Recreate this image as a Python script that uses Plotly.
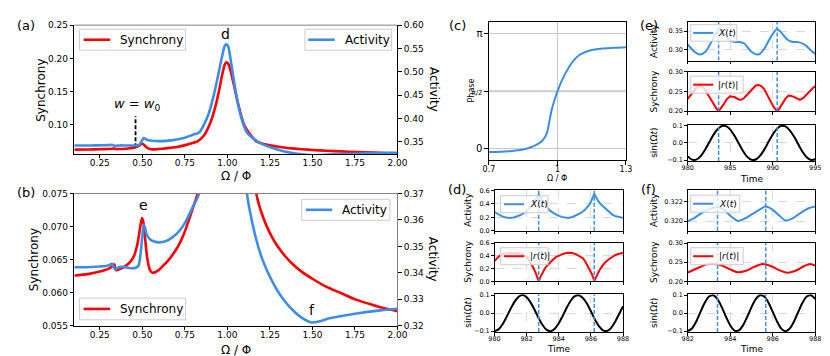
import plotly.graph_objects as go
import math

# ---------------- data ----------------
omega_sync = [0.10, 0.18, 0.25, 0.30, 0.32, 0.335, 0.345, 0.37, 0.40, 0.43, 0.45, 0.47, 0.485, 0.498,
              0.505, 0.515, 0.53, 0.545, 0.56, 0.59, 0.62, 0.65, 0.68, 0.71, 0.74, 0.77, 0.80, 0.824,
              0.86, 0.90, 0.93, 0.95, 0.97, 0.985, 0.995, 1.005, 1.02, 1.04, 1.06, 1.08, 1.10, 1.13,
              1.17, 1.21, 1.25, 1.29, 1.34, 1.38, 1.44, 1.50, 1.58, 1.67, 1.76, 1.86, 1.93, 2.00]
sync_vals = [0.0626, 0.0628, 0.0632, 0.0636, 0.0639, 0.0643, 0.0634, 0.0636, 0.0640, 0.0647, 0.0655,
             0.0672, 0.0695, 0.0713, 0.0708, 0.0685, 0.0650, 0.0634, 0.0630, 0.0633, 0.0640, 0.0648,
             0.0658, 0.0670, 0.0686, 0.0707, 0.0730, 0.0750, 0.083, 0.103, 0.128, 0.150, 0.176, 0.191,
             0.194, 0.192, 0.180, 0.158, 0.135, 0.115, 0.099, 0.087, 0.0750, 0.0714, 0.0690, 0.0672,
             0.0655, 0.0644, 0.0631, 0.0621, 0.0609, 0.0599, 0.0589, 0.0581, 0.0576, 0.0572]

omega_act = [0.10, 0.20, 0.25, 0.30, 0.322, 0.335, 0.345, 0.365, 0.40, 0.44, 0.465, 0.478, 0.49, 0.50,
             0.508, 0.515, 0.527, 0.545, 0.57, 0.60, 0.64, 0.67, 0.71, 0.75, 0.795, 0.834, 0.86, 0.89,
             0.92, 0.95, 0.97, 0.985, 0.995, 1.005, 1.02, 1.04, 1.06, 1.08, 1.10, 1.115, 1.132, 1.17,
             1.209, 1.266, 1.324, 1.40, 1.45, 1.497, 1.55, 1.60, 1.75, 1.90, 2.00]
act_vals = [0.3421, 0.3422, 0.3424, 0.3428, 0.3434, 0.3416, 0.3414, 0.3422, 0.3421, 0.3417, 0.3420,
            0.3428, 0.3476, 0.3540, 0.3580, 0.3572, 0.3543, 0.3527, 0.3518, 0.3515, 0.3520, 0.3531,
            0.3553, 0.3588, 0.3647, 0.3700, 0.385, 0.410, 0.450, 0.500, 0.535, 0.556, 0.559, 0.554,
            0.524, 0.477, 0.435, 0.404, 0.381, 0.370, 0.3635, 0.3525, 0.3445, 0.3365, 0.3304, 0.3249,
            0.3225, 0.3212, 0.3218, 0.3228, 0.3245, 0.3258, 0.3264]

w0 = 0.46
w0_line_y = [0.0662, 0.113]

omega_phase = [0.70, 0.75, 0.80, 0.85, 0.88, 0.90, 0.92, 0.935, 0.945, 0.952, 0.958, 0.963, 0.968,
               0.975, 0.985, 1.00, 1.02, 1.05, 1.08, 1.10, 1.15, 1.20, 1.25, 1.30]
phase_vals = [-0.088, -0.079, -0.057, -0.016, 0.038, 0.088, 0.157, 0.236, 0.314, 0.408, 0.520, 0.700,
              0.860, 1.068, 1.288, 1.561, 1.869, 2.221, 2.466, 2.570, 2.686, 2.730, 2.752, 2.765]
phase_ticks = [0, math.pi / 2, math.pi]

# (d) Omega/Phi = 1
d_act_t = [980.0, 980.2, 980.41, 980.65, 980.92, 981.2, 981.43, 981.7, 981.93, 982.15, 982.34, 982.5,
           982.65, 982.75, 982.85, 983.0, 983.26, 983.45, 983.66, 983.9, 984.17, 984.4, 984.58, 984.85,
           985.09, 985.35, 985.6, 985.75, 985.9, 986.05, 986.21, 986.32, 986.45, 986.6, 986.92, 987.1,
           987.33, 987.55, 987.74, 988.0]
d_act = [0.28, 0.245, 0.221, 0.200, 0.192, 0.198, 0.216, 0.245, 0.28, 0.33, 0.389, 0.445, 0.505, 0.54,
         0.505, 0.44, 0.354, 0.30, 0.266, 0.232, 0.207, 0.195, 0.192, 0.205, 0.231, 0.262, 0.305, 0.34,
         0.389, 0.46, 0.55, 0.505, 0.445, 0.40, 0.33, 0.29, 0.241, 0.215, 0.202, 0.192]
d_r_t = [980.0, 980.15, 980.3, 980.45, 980.61, 980.9, 981.22, 981.5, 981.75, 981.93, 982.1, 982.24, 982.4,
         982.54, 982.65, 982.75, 982.85, 982.95, 983.1, 983.26, 983.45, 983.66, 983.85, 984.07, 984.3,
         984.58, 984.85, 985.09, 985.3, 985.5, 985.65, 985.8, 985.95, 986.07, 986.21, 986.31, 986.41,
         986.55, 986.72, 986.9, 987.12, 987.3, 987.53, 987.75, 988.0]
d_r = [0.32, 0.365, 0.397, 0.418, 0.432, 0.440, 0.442, 0.437, 0.420, 0.397, 0.350, 0.295, 0.220, 0.142,
       0.075, 0.005, 0.065, 0.117, 0.185, 0.244, 0.300, 0.346, 0.383, 0.412, 0.433, 0.447, 0.443, 0.422,
       0.397, 0.361, 0.310, 0.244, 0.170, 0.107, 0.005, 0.065, 0.107, 0.180, 0.244, 0.300, 0.346, 0.380,
       0.412, 0.432, 0.442]
d_sin_t = [980.0, 980.25, 980.5, 980.75, 981.0, 981.25, 981.5, 981.75, 982.0, 982.25, 982.5, 982.75,
           983.0, 983.25, 983.5, 983.75, 984.0, 984.25, 984.5, 984.75, 985.0, 985.25, 985.5, 985.75,
           986.0, 986.25, 986.5, 986.75, 987.0, 987.25, 987.5, 987.75, 988.0]
d_sin = [-0.100, -0.090, -0.062, -0.021, 0.024, 0.064, 0.091, 0.100, 0.088, 0.058, 0.017, -0.028,
         -0.067, -0.093, -0.100, -0.086, -0.056, -0.014, 0.031, 0.070, 0.094, 0.099, 0.084, 0.053,
         0.010, -0.035, -0.072, -0.095, -0.099, -0.083, -0.049, -0.006, 0.038]
d_marks = [982.75, 986.21]

# (e) Omega/Phi = 0.5
e_act_t = [980.0, 980.77, 981.45, 982.1, 982.87, 983.44, 983.75, 984.2, 984.8, 985.36, 986.1, 986.7,
           987.46, 988.3, 989.0, 989.76, 990.5, 990.95, 991.7, 992.25, 993.0, 993.8, 994.5, 995.0]
e_act = [0.3136, 0.2945, 0.2864, 0.2945, 0.3245, 0.347, 0.356, 0.3455, 0.327, 0.321, 0.320, 0.3155,
         0.2945, 0.2864, 0.302, 0.3336, 0.3555, 0.347, 0.327, 0.321, 0.320, 0.3127, 0.2973, 0.288]
e_r_t = [980.0, 980.3, 980.6, 980.95, 981.4, 981.8, 982.1, 982.5, 982.87, 983.2, 983.45, 983.63, 983.85,
         984.2, 984.6, 984.97, 985.3, 985.55, 986.0, 986.3, 986.6, 986.9, 987.3, 987.65, 988.0, 988.34,
         988.7, 989.0, 989.4, 989.76, 990.1, 990.35, 990.52, 990.75, 991.1, 991.5, 991.86, 992.1, 992.4,
         992.8, 993.2, 993.6, 993.97, 994.5, 995.0]
e_r = [0.2314, 0.240, 0.249, 0.258, 0.2645, 0.261, 0.252, 0.238, 0.223, 0.211, 0.204, 0.200, 0.206,
       0.2165, 0.231, 0.238, 0.237, 0.2355, 0.230, 0.229, 0.233, 0.240, 0.251, 0.260, 0.2655, 0.267,
       0.2635, 0.256, 0.240, 0.223, 0.211, 0.204, 0.200, 0.206, 0.219, 0.232, 0.2397, 0.2395, 0.237,
       0.232, 0.229, 0.234, 0.2413, 0.254, 0.2645]
e_sin_t = [980.0, 980.5, 981.0, 981.5, 982.0, 982.5, 983.0, 983.5, 984.0, 984.5, 985.0, 985.5, 986.0,
           986.5, 987.0, 987.5, 988.0, 988.5, 989.0, 989.5, 990.0, 990.5, 991.0, 991.5, 992.0, 992.5,
           993.0, 993.5, 994.0, 994.5, 995.0]
e_sin = [-0.078, -0.097, -0.097, -0.078, -0.043, 0.001, 0.045, 0.079, 0.098, 0.097, 0.077, 0.041,
         -0.003, -0.047, -0.081, -0.098, -0.096, -0.075, -0.039, 0.006, 0.049, 0.082, 0.099, 0.096,
         0.073, 0.037, -0.008, -0.051, -0.083, -0.099, -0.095]
e_marks = [983.63, 990.52]

# (f) Omega/Phi = 1.5
f_act_t = [982.0, 982.26, 982.65, 983.04, 983.38, 983.66, 983.97, 984.36, 984.67, 985.05, 985.44, 985.67,
           985.98, 986.29, 986.6, 986.91, 987.3, 987.69, 988.0]
f_act = [0.3200, 0.32026, 0.32082, 0.32125, 0.32144, 0.32125, 0.3206, 0.32003, 0.32026, 0.32075,
         0.32125, 0.32148, 0.32118, 0.3206, 0.32007, 0.32026, 0.32082, 0.32131, 0.32148]
f_r_t = [982.0, 982.42, 982.88, 983.19, 983.58, 983.97, 984.36, 984.74, 985.13, 985.52, 985.91, 986.29,
         986.68, 987.07, 987.46, 987.77, 988.0]
f_r = [0.2225, 0.2333, 0.2442, 0.2458, 0.2417, 0.2317, 0.2233, 0.2275, 0.2375, 0.245, 0.24, 0.2292,
       0.2225, 0.2275, 0.2392, 0.245, 0.2408]
f_sin_t = [982.0, 982.2, 982.4, 982.6, 982.8, 983.0, 983.2, 983.4, 983.6, 983.8, 984.0, 984.2, 984.4,
           984.6, 984.8, 985.0, 985.2, 985.4, 985.6, 985.8, 986.0, 986.2, 986.4, 986.6, 986.8, 987.0,
           987.2, 987.4, 987.6, 987.8, 988.0]
f_sin = [-0.100, -0.085, -0.046, 0.007, 0.058, 0.092, 0.099, 0.078, 0.033, -0.020, -0.068, -0.097,
         -0.096, -0.068, -0.020, 0.033, 0.078, 0.099, 0.092, 0.058, 0.007, -0.046, -0.086, -0.100,
         -0.085, -0.046, 0.007, 0.058, 0.092, 0.099, 0.078]
f_marks = [983.4, 985.67]

peak_labels = ['d', 'e', 'f']
peak_label_pos = [(0.99, 0.236), (0.507, 0.0733), (1.50, 0.0573)]

# ---------------- styling helpers ----------------
W, H = 830, 356
FONT = 'DejaVu Sans'
RED = '#ff0000'
BLUE = '#3a8ee6'


def px(x):
    return x / W


def py(y):
    return 1 - y / H


def axis(dom, rng, size=9, **kw):
    d = dict(domain=dom, range=rng, showline=True, linecolor='black', linewidth=1, mirror=True,
             ticks='outside', ticklen=3.5, tickwidth=0.8, tickcolor='black', showgrid=False,
             zeroline=False, tickfont=dict(size=size, color='black', family=FONT))
    d.update(kw)
    return d


def ann(text, x, y, size, angle=0, xa='center', ya='middle'):
    return dict(text=text, x=px(x), y=py(y), xref='paper', yref='paper', showarrow=False,
                textangle=angle, xanchor=xa, yanchor=ya,
                font=dict(size=size, color='black', family=FONT))


fig = go.Figure()
SPL = dict(shape='spline', smoothing=0.8)
LIN = dict(shape='linear')

# (a)
fig.add_trace(go.Scatter(x=omega_sync, y=sync_vals, xaxis='x', yaxis='y', mode='lines', name='Synchrony',
                         line=dict(color=RED, width=2.6, **SPL), showlegend=False))
fig.add_trace(go.Scatter(x=omega_act, y=act_vals, xaxis='x', yaxis='y2', mode='lines', name='Activity',
                         line=dict(color=BLUE, width=2.6, **SPL), showlegend=False))
fig.add_trace(go.Scatter(x=[w0, w0], y=w0_line_y, xaxis='x', yaxis='y', mode='lines', showlegend=False,
                         line=dict(color='black', width=1.8, dash='4px,2px')))
# (b)
fig.add_trace(go.Scatter(x=omega_sync, y=sync_vals, xaxis='x2', yaxis='y3', mode='lines', name='Synchrony',
                         line=dict(color=RED, width=2.6, **SPL), showlegend=False))
fig.add_trace(go.Scatter(x=omega_act, y=act_vals, xaxis='x2', yaxis='y4', mode='lines', name='Activity',
                         line=dict(color=BLUE, width=2.6, **SPL), showlegend=False))
# (c)
fig.add_trace(go.Scatter(x=omega_phase, y=phase_vals, xaxis='x3', yaxis='y5', mode='lines', showlegend=False,
                         line=dict(color=BLUE, width=2, **SPL)))

XT = '<i>X</i>(<i>t</i>)'
RT = '|<i>r</i>(<i>t</i>)|'
groups = [
    ('x4', 'y6', 'x5', 'y7', 'x6', 'y8', d_act_t, d_act, d_r_t, d_r, d_sin_t, d_sin, LIN, LIN),
    ('x7', 'y9', 'x8', 'y10', 'x9', 'y11', e_act_t, e_act, e_r_t, e_r, e_sin_t, e_sin, SPL, LIN),
    ('x10', 'y12', 'x11', 'y13', 'x12', 'y14', f_act_t, f_act, f_r_t, f_r, f_sin_t, f_sin, SPL, SPL),
]
for (xa1, ya1, xa2, ya2, xa3, ya3, at, av, rt, rv, st, sv, ashape, rshape) in groups:
    fig.add_trace(go.Scatter(x=at, y=av, xaxis=xa1, yaxis=ya1, mode='lines', name='X(t)', showlegend=False,
                             line=dict(color=BLUE, width=2, **ashape)))
    fig.add_trace(go.Scatter(x=rt, y=rv, xaxis=xa2, yaxis=ya2, mode='lines', name='|r(t)|', showlegend=False,
                             line=dict(color=RED, width=2, **rshape)))
    fig.add_trace(go.Scatter(x=st, y=sv, xaxis=xa3, yaxis=ya3, mode='lines', showlegend=False,
                             line=dict(color='black', width=2, **SPL)))

# ---------------- layout ----------------
AX = [61.5, 391]
layout = dict(width=W, height=H, margin=dict(l=0, r=0, t=0, b=0), paper_bgcolor='white',
              plot_bgcolor='white', font=dict(family=FONT, color='black'), showlegend=False)

XT_AB = [0.25, 0.5, 0.75, 1.0, 1.25, 1.5, 1.75, 2.0]
# (a)
layout['xaxis'] = axis([px(AX[0]), px(AX[1])], [0.1, 2.0], anchor='y', tickvals=XT_AB,
                       tickformat='.2f', ticklabelstandoff=-3, mirror=False)
layout['yaxis'] = axis([py(145), py(12.5)], [0.0561, 0.25], anchor='x', tickvals=[0.10, 0.15, 0.20, 0.25],
                       tickformat='.2f', mirror=False)
layout['yaxis2'] = axis([py(145), py(12.5)], [0.324, 0.60], anchor='x', overlaying='y', side='right',
                        tickvals=[0.35, 0.40, 0.45, 0.50, 0.55, 0.60], tickformat='.2f', mirror=False)
# (b)
layout['xaxis2'] = axis([px(AX[0]), px(AX[1])], [0.1, 2.0], anchor='y3', tickvals=XT_AB,
                        tickformat='.2f', ticklabelstandoff=-3, mirror=False)
layout['yaxis3'] = axis([py(321.7), py(185.7)], [0.055, 0.075], anchor='x2',
                        tickvals=[0.055, 0.060, 0.065, 0.070, 0.075], tickformat='.3f', mirror=False)
layout['yaxis4'] = axis([py(321.7), py(185.7)], [0.32, 0.37], anchor='x2', overlaying='y3', side='right',
                        tickvals=[0.32, 0.33, 0.34, 0.35, 0.36, 0.37], tickformat='.2f', mirror=False,
                        linecolor='#808080')
# (c)
layout['xaxis3'] = axis([px(484.3), px(624)], [0.7, 1.3], anchor='y5', size=8, tickvals=[0.7, 1.0, 1.3],
                        ticktext=['0.7', '1', '1.3'], showgrid=True, gridcolor='#c8c8c8', gridwidth=1,
                        ticklabelstandoff=-3)
layout['yaxis5'] = axis([py(151.7), py(9)], [-0.1 * math.pi, 1.1 * math.pi], anchor='x3', size=10,
                        tickvals=phase_ticks,
                        ticktext=['0', '<span style="font-size:7px">π/2</span>', 'π'],
                        showgrid=True, gridcolor='#c8c8c8', gridwidth=1)

# (d),(e),(f)
rows = [[181.7, 224], [236.7, 276], [289.3, 328.3]]
rows_e = [[9, 49], [60.7, 101], [115, 152.3]]
GRID = dict(showgrid=True, gridcolor='#d9d9d9', gridwidth=0.8, griddash='dash')
sub_specs = [
    (['xaxis4', 'xaxis5', 'xaxis6'], ['yaxis6', 'yaxis7', 'yaxis8'], [490, 621], rows,
     [980, 988], [980, 982, 984, 986, 988],
     [[0, 0.615], [0, 0.6], [-0.105, 0.105]],
     [[0.0, 0.2, 0.4, 0.6], [0.0, 0.2, 0.4, 0.6], [-0.1, 0.0, 0.1]], ['.1f', '.1f', '.1f']),
    (['xaxis7', 'xaxis8', 'xaxis9'], ['yaxis9', 'yaxis10', 'yaxis11'], [687, 817], rows_e,
     [980, 995], [980, 985, 990, 995],
     [[0.270, 0.375], [0.20, 0.30], [-0.105, 0.105]],
     [[0.30, 0.35], [0.20, 0.25, 0.30], [-0.1, 0.0, 0.1]], ['.2f', '.2f', '.1f']),
    (['xaxis10', 'xaxis11', 'xaxis12'], ['yaxis12', 'yaxis13', 'yaxis14'], [687, 817], rows,
     [982, 988], [982, 984, 986, 988],
     [[0.31904, 0.3232], [0.20, 0.30], [-0.105, 0.105]],
     [[0.320, 0.322], [0.20, 0.25, 0.30], [-0.1, 0.0, 0.1]], ['.3f', '.2f', '.1f']),
]
for xs, ys, xr, rws, xrange_, xticks, yranges, yticks, yfmts in sub_specs:
    for i in range(3):
        xname, yname = xs[i], ys[i]
        layout[xname] = axis([px(xr[0]), px(xr[1])], xrange_, size=6.5, anchor=yname.replace('yaxis', 'y'),
                             tickvals=xticks, showticklabels=(i == 2), ticklen=2.5, ticklabelstandoff=-2, **GRID)
        layout[yname] = axis([py(rws[i][1]), py(rws[i][0])], yranges[i], size=6.5, ticklen=2.5,
                             anchor=xname.replace('xaxis', 'x'), tickvals=yticks[i], tickformat=yfmts[i], **GRID)

# top spines of (a) and (b), reference line in (c), vertical dashed markers
shapes = [
    dict(type='line', xref='x domain', yref='y domain', x0=0, x1=1, y0=1, y1=1,
         line=dict(color='#808080', width=1)),
    dict(type='line', xref='x2 domain', yref='y3 domain', x0=0, x1=1, y0=1, y1=1,
         line=dict(color='#808080', width=1)),
    dict(type='line', xref='x3 domain', yref='y5', x0=0, x1=1, y0=phase_ticks[1], y1=phase_ticks[1],
         line=dict(color='#dedede', width=2.5), layer='below'),
]
xgroups = [(d_marks, ['x4', 'x5', 'x6'], ['y6', 'y7', 'y8']),
           (e_marks, ['x7', 'x8', 'x9'], ['y9', 'y10', 'y11']),
           (f_marks, ['x10', 'x11', 'x12'], ['y12', 'y13', 'y14'])]
for marks, xas, yas in xgroups:
    for m in marks:
        for xa, ya in zip(xas, yas):
            shapes.append(dict(type='line', xref=xa, yref=ya + ' domain', x0=m, x1=m, y0=0, y1=1,
                               line=dict(color=BLUE, width=1.5, dash='4px,2px')))

annotations = [
    ann('(a)', 12.5, 13, 13), ann('(b)', 12.5, 185, 13), ann('(c)', 452, 13, 13),
    ann('(d)', 452, 182, 13), ann('(e)', 647, 13, 13), ann('(f)', 647, 182, 13),
    ann('Synchrony', 27.5, 79, 12, -90), ann('Activity', 428, 79, 12, 90),
    ann('Ω / Φ', 226, 158.5, 12, ya='top'),
    ann('Synchrony', 20, 253.7, 12, -90), ann('Activity', 428, 253.7, 12, 90),
    ann('Ω / Φ', 226, 337, 12, ya='top'),
    ann('Phase', 466.7, 80, 8, -90), ann('Ω / Φ', 554, 170, 8),
    ann('<i>w</i> = <i>w</i><sub>0</sub>', 125, 94, 13),
]

# legends (box, line sample, label) drawn in pixel positions
legend_specs = [
    # (x0, x1, y0, y1, line_x0, line_x1, text_x, label, color, font size, line width)
    (66.7, 175, 16.7, 38.3, 71, 98, 106, 'Synchrony', RED, 12, 2.6),
    (296.7, 385, 16.7, 38.3, 300, 327, 335, 'Activity', BLUE, 12, 2.6),
    (293.3, 383.3, 191.7, 213.3, 297.5, 324.5, 332.5, 'Activity', BLUE, 12, 2.6),
    (66.7, 175, 293.3, 315.7, 71, 98, 106, 'Synchrony', RED, 12, 2.6),
    (496, 544.5, 188, 205.5, 499.5, 520, 524, XT, BLUE, 9, 2),
    (496, 544.5, 241.5, 259, 499.5, 520, 524, RT, RED, 9, 2),
    (690, 737, 12, 29, 692.5, 713, 716, XT, BLUE, 9, 2),
    (690, 743.5, 65, 82.5, 692.5, 713, 716, RT, RED, 9, 2),
    (690, 740, 187.5, 205, 692.5, 713, 717, XT, BLUE, 9, 2),
    (690, 743.5, 241.5, 259, 692.5, 713, 717, RT, RED, 9, 2),
]
for (x0, x1, y0, y1, lx0, lx1, tx, label, col, fs, lw) in legend_specs:
    ym = (y0 + y1) / 2
    shapes.append(dict(type='rect', xref='paper', yref='paper', x0=px(x0), x1=px(x1), y0=py(y1), y1=py(y0),
                       fillcolor='rgba(255,255,255,0.8)', line=dict(color='#cccccc', width=1)))
    shapes.append(dict(type='line', xref='paper', yref='paper', x0=px(lx0), x1=px(lx1), y0=py(ym), y1=py(ym),
                       line=dict(color=col, width=lw)))
    annotations.append(ann(label, tx, ym, fs, xa='left'))
layout['shapes'] = shapes

for xlab, rws_ in [(463.5, rows), (652.5, rows_e), (652.5, rows)]:
    for txt, r in zip(['Activity', 'Sychrony', 'sin(Ω<i>t</i>)'], rws_):
        annotations.append(ann(txt, xlab, (r[0] + r[1]) / 2, 9, -90))
annotations.append(ann('Time', 555.5, 345.7, 9))
annotations.append(ann('Time', 752, 171, 9))
annotations.append(ann('Time', 752, 345.7, 9))
for lab, (lx, ly), xr, yr in zip(peak_labels, peak_label_pos, ['x', 'x2', 'x2'], ['y', 'y3', 'y3']):
    annotations.append(dict(text=lab, x=lx, y=ly, xref=xr, yref=yr, showarrow=False,
                            font=dict(size=14, color='black', family=FONT)))
layout['annotations'] = annotations

fig.update_layout(**layout)
fig.write_html('out.html')
